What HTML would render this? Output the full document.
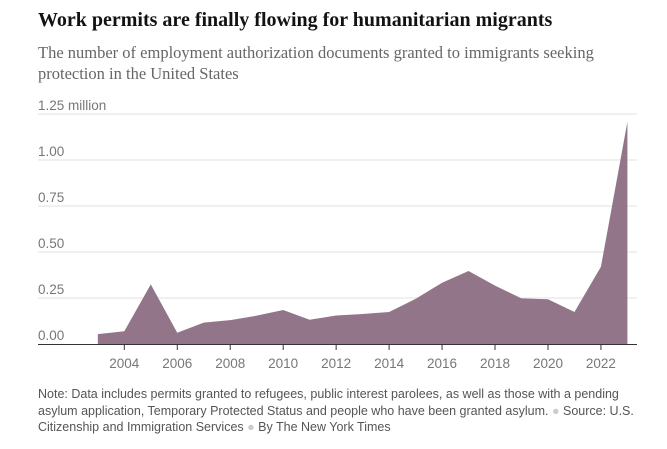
<!DOCTYPE html>
<html><head><meta charset="utf-8"><style>
body{margin:0;background:#fff;width:667px;height:449px;overflow:hidden;position:relative;font-family:"Liberation Sans",sans-serif}
#title{position:absolute;left:38px;top:9px;font:bold 20px "Liberation Serif",serif;color:#121212;margin:0}
#sub{position:absolute;left:38px;top:42px;width:620px;font:16.5px/21px "Liberation Serif",serif;color:#666}
#note{position:absolute;left:38px;top:386px;width:620px;font:12.5px/16.6px "Liberation Sans",sans-serif;color:#555}
svg{position:absolute;left:0;top:0}
</style></head><body>
<h1 id="title">Work permits are finally flowing for humanitarian migrants</h1>
<div id="sub">The number of employment authorization documents granted to immigrants seeking protection in the United States</div>
<svg id="chart" width="667" height="449"></svg>
<div id="note">Note: Data includes permits granted to refugees, public interest parolees, as well as those with a pending asylum application, Temporary Protected Status and people who have been granted asylum. <span style="color:#ccc">●</span> Source: U.S. Citizenship and Immigration Services <span style="color:#ccc">●</span> By The New York Times</div>
<script>
const years=[2003,2004,2005,2006,2007,2008,2009,2010,2011,2012,2013,2014,2015,2016,2017,2018,2019,2020,2021,2022,2023];
const values=[0.054,0.069,0.324,0.061,0.116,0.130,0.154,0.185,0.132,0.155,0.163,0.174,0.245,0.333,0.397,0.317,0.248,0.243,0.174,0.42,1.208];
const yTicks=[0,0.25,0.5,0.75,1,1.25];
const yTickLabels=["0.00","0.25","0.50","0.75","1.00","1.25 million"];
const xTicks=[2004,2006,2008,2010,2012,2014,2016,2018,2020,2022];
const svg=document.getElementById('chart');const NS='http://www.w3.org/2000/svg';
const x=yr=>124.3+(yr-2004)*26.48;
const y=v=>344-v*184;
function mk(t,a){const e=document.createElementNS(NS,t);for(const k in a)e.setAttribute(k,a[k]);svg.appendChild(e);return e;}
yTicks.forEach((t,i)=>{
 if(t>0){const g=mk('line',{x1:38,x2:637,y1:y(t),y2:y(t),stroke:'#e2e2e2','stroke-width':1});
 
 }
 const l=mk('text',{x:38,y:y(t)-4,fill:'#777','font-size':13.5,'font-family':'Liberation Sans, sans-serif'});
 l.textContent=yTickLabels[i];
 
 
});
let d='M'+x(years[0])+','+y(0);
years.forEach((yr,i)=>{d+=' L'+x(yr)+','+y(values[i]);});
d+=' L'+x(years[years.length-1])+','+y(0)+' Z';
const area=mk('path',{d:d,fill:'#93758a'});


const ax=mk('line',{x1:38,x2:637,y1:344.5,y2:344.5,stroke:'#333','stroke-width':1});


xTicks.forEach(t=>{
 const tk=mk('line',{x1:x(t),x2:x(t),y1:344,y2:350,stroke:'#333','stroke-width':1});
 
 
 const l=mk('text',{x:x(t),y:368,fill:'#777','font-size':13.5,'text-anchor':'middle','font-family':'Liberation Sans, sans-serif'});
 l.textContent=t;
 
 
});
</script>
</body></html>
